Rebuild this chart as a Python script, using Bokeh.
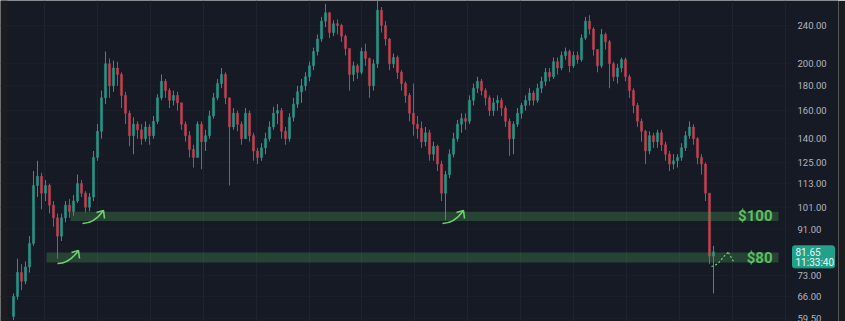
import math
from bokeh.plotting import figure
from bokeh.models import (Range1d, FixedTicker, PrintfTickFormatter, ColumnDataSource,
                          Label, BoxAnnotation)
from bokeh.embed import file_html
from bokeh.resources import INLINE

# ---------------- data ----------------
FIRST_OPEN = 60.0
CLOSE = [66, 74, 71, 76, 85, 112, 117, 108, 112, 102,
         96, 88, 96, 102, 99, 104, 113, 108, 101, 106,
         128, 145, 170, 200, 180, 196, 190, 172, 158, 142,
         150, 146, 140, 148, 142, 152, 170, 184, 176, 168,
         172, 166, 150, 142, 133, 128, 150, 138, 142, 156,
         170, 182, 190, 170, 148, 158, 150, 140, 158, 142,
         132, 128, 134, 140, 148, 158, 160, 145, 140, 155,
         165, 175, 180, 188, 198, 212, 225, 245, 255, 232,
         242, 240, 228, 215, 190, 198, 192, 212, 205, 180,
         200, 258, 240, 225, 200, 206, 192, 182, 172, 158,
         150, 147, 138, 144, 130, 135, 124, 108, 118, 130,
         140, 150, 154, 152, 168, 178, 184, 176, 170, 160,
         166, 168, 162, 152, 140, 150, 158, 164, 168, 174,
         168, 178, 184, 192, 188, 202, 196, 208, 212, 198,
         208, 204, 226, 245, 236, 214, 198, 230, 222, 200,
         188, 196, 204, 188, 176, 164, 152, 145, 132, 142,
         138, 144, 136, 130, 124, 126, 128, 134, 142, 148,
         140, 128, 124, 108, 80, 81.65]
HIGH = [67, 79, 77, 78, 88, 120, 126, 119, 115, 113,
        104, 98, 98, 104, 105, 107, 118, 115, 109, 108,
        132, 150, 176, 212, 205, 203, 202, 192, 175, 160,
        155, 152, 150, 152, 150, 156, 173, 190, 186, 178,
        176, 175, 166, 152, 145, 136, 152, 152, 146, 160,
        174, 186, 196, 192, 170, 162, 160, 152, 162, 160,
        144, 134, 137, 144, 152, 163, 165, 162, 148, 158,
        170, 180, 186, 192, 202, 216, 230, 250, 266, 256,
        246, 247, 242, 230, 215, 202, 200, 216, 220, 206,
        204, 274, 262, 245, 226, 210, 208, 194, 184, 174,
        182, 156, 152, 148, 146, 138, 136, 126, 120, 133,
        144, 153, 158, 158, 172, 182, 188, 186, 178, 172,
        170, 172, 170, 164, 154, 152, 162, 166, 172, 178,
        176, 182, 188, 196, 196, 206, 206, 212, 216, 214,
        212, 212, 230, 250, 252, 238, 214, 236, 232, 224,
        202, 200, 206, 206, 190, 178, 166, 154, 146, 145,
        144, 146, 146, 138, 132, 130, 130, 137, 145, 152,
        150, 141, 130, 125, 108, 84]
LOW = [59, 65, 68, 70, 74, 84, 106, 100, 104, 98,
       92, 79, 86, 94, 96, 97, 103, 106, 98.5, 99,
       104, 126, 140, 165, 170, 175, 180, 162, 150, 135,
       130, 140, 136, 138, 136, 140, 150, 168, 170, 162,
       164, 160, 146, 138, 128, 122, 128, 121, 132, 140,
       154, 168, 178, 165, 112, 146, 145, 136, 140, 138,
       126, 124, 126, 130, 138, 146, 150, 140, 136, 138,
       152, 162, 166, 176, 184, 194, 208, 222, 238, 226,
       228, 230, 222, 208, 176, 184, 186, 190, 198, 170,
       176, 196, 232, 218, 194, 196, 186, 176, 166, 152,
       142, 140, 134, 135, 126, 126, 120, 104, 95, 116,
       128, 138, 144, 146, 150, 164, 174, 172, 164, 156,
       156, 160, 156, 148, 129, 130, 148, 154, 160, 164,
       164, 166, 174, 180, 184, 186, 190, 194, 204, 192,
       196, 200, 202, 224, 230, 208, 192, 196, 214, 178,
       184, 182, 192, 184, 170, 158, 148, 138, 124, 130,
       134, 134, 132, 126, 120, 121, 122, 126, 132, 140,
       136, 124, 118, 104, 77, 67]

PRICE_TICKS = [59.5, 66, 73, 91, 101, 113, 125, 140, 160, 180, 200, 240]
LAST_PRICE = 81.65
LAST_TIME = "11:33:40"
ZONE_LABELS = ["$100", "$80"]
ZONE_LOW = [94.6, 77.6]
ZONE_HIGH = [98.8, 81.4]

# ---------------- layout / style ----------------
W, H = 845, 321
FRAME_W = 838          # frame reaches the right dark strip; price scale drawn over it
CHART_W = 790          # where the candle area ends
X0_PX, DX_PX = 13.0, 4.0
Y_MIN, Y_MAX = 58.6, 270.3
BG = "#161a25"
UP, DOWN = "#2a9587", "#be4250"
GREEN_TXT = "#5cbf60"
ARROW = "#6fd06f"
TAG = "#21a08a"


def px2x(px):
    return (px - X0_PX) / DX_PX


def py2y(py):
    lmin, lmax = math.log(Y_MIN), math.log(Y_MAX)
    return math.exp(lmax - py / H * (lmax - lmin))


def y2py(v):
    lmin, lmax = math.log(Y_MIN), math.log(Y_MAX)
    return (lmax - math.log(v)) / (lmax - lmin) * H


n = len(CLOSE)
opens = [FIRST_OPEN] + CLOSE[:-1]
idx = list(range(n))
src = ColumnDataSource(dict(
    x=idx, o=opens, c=CLOSE, h=HIGH, l=LOW,
    top=[max(a, b) for a, b in zip(opens, CLOSE)],
    bot=[min(a, b) for a, b in zip(opens, CLOSE)],
    col=[UP if c >= o else DOWN for o, c in zip(opens, CLOSE)],
))

p = figure(width=W, height=H, y_axis_type="log",
           x_range=Range1d(px2x(0), px2x(FRAME_W)),
           y_range=Range1d(Y_MIN, Y_MAX),
           x_axis_location=None, y_axis_location="right",
           output_backend="svg", toolbar_location=None,
           min_border_left=0, min_border_right=W - FRAME_W,
           min_border_top=0, min_border_bottom=0)
p.background_fill_color = BG
p.border_fill_color = "#1c1c1e"
p.outline_line_color = None

# grid
p.xgrid.ticker = FixedTicker(ticks=[px2x(44 + 52.9 * k) for k in range(15)])
p.xgrid.grid_line_color = "#1f2331"
p.ygrid.grid_line_color = None
p.segment(x0=[px2x(0)] * len(PRICE_TICKS), x1=[px2x(CHART_W)] * len(PRICE_TICKS),
          y0=PRICE_TICKS, y1=PRICE_TICKS, line_color="#1c202c", line_width=1)

# axis (labels drawn back over the frame, in the price-scale column)
ax = p.yaxis[0]
ax.ticker = FixedTicker(ticks=PRICE_TICKS, minor_ticks=[])
ax.formatter = PrintfTickFormatter(format="%.2f")
ax.axis_line_color = None
ax.major_tick_line_color = None
ax.minor_tick_line_color = None
ax.major_tick_in = 0
ax.major_tick_out = 0
ax.major_label_text_color = "#b2b5be"
ax.major_label_text_font = "Roboto"
ax.major_label_text_font_size = "9.5px"
ax.major_label_standoff = -(FRAME_W - 797)

# left dark strip
p.add_layout(BoxAnnotation(left=px2x(0), right=px2x(7), fill_color="#1d1d1f",
                           fill_alpha=1, line_color=None, level="underlay"))

# candles
p.segment(x0="x", y0="l", x1="x", y1="h", source=src, color="col", line_width=1)
p.vbar(x="x", width=0.55, top="top", bottom="bot", source=src,
       fill_color="col", line_color="col", line_width=0.5)

# zones
zl, zr = [px2x(70), px2x(46)], px2x(778)
p.quad(left=zl, right=[zr, zr], bottom=ZONE_LOW, top=ZONE_HIGH,
       fill_color="#4a9a50", fill_alpha=0.32, line_color=None)
for lbl, lo, hi in zip(ZONE_LABELS, ZONE_LOW, ZONE_HIGH):
    p.add_layout(Label(x=px2x(772), y=math.sqrt(lo * hi), text=lbl,
                       text_align="right", text_baseline="middle",
                       text_font="Roboto", text_font_style="bold",
                       text_font_size="15px", text_color=GREEN_TXT))

# hand-drawn arrows (pixel tips)
for tx, ty in [(78, 250), (103, 210), (463, 210)]:
    p.bezier(x0=[px2x(tx - 21)], y0=[py2y(ty + 13)], x1=[px2x(tx)], y1=[py2y(ty)],
             cx0=[px2x(tx - 11)], cy0=[py2y(ty + 13)], cx1=[px2x(tx - 5)], cy1=[py2y(ty + 7)],
             line_color=ARROW, line_width=1.6)
    p.multi_line(xs=[[px2x(tx - 7), px2x(tx), px2x(tx + 1)]],
                 ys=[[py2y(ty + 2), py2y(ty), py2y(ty + 8)]],
                 line_color=ARROW, line_width=1.6)

# dotted projection
p.bezier(x0=[px2x(711)], y0=[py2y(266)], x1=[px2x(728)], y1=[py2y(252)],
         cx0=[px2x(719)], cy0=[py2y(265)], cx1=[px2x(723)], cy1=[py2y(254)],
         line_color=ARROW, line_width=1.2, line_dash="2 2")
p.line(x=[px2x(728), px2x(733)], y=[py2y(252), py2y(261)],
       line_color=ARROW, line_width=1.2, line_dash="2 2")

# last price tag on the price scale
pp = y2py(LAST_PRICE)
p.quad(left=[px2x(792)], right=[px2x(834)], top=[py2y(pp - 6)], bottom=[py2y(pp + 16)],
       fill_color=TAG, line_color=TAG, border_radius=2)
p.add_layout(Label(x=px2x(795), y=LAST_PRICE, text="%.2f" % LAST_PRICE,
                   text_align="left", text_baseline="middle",
                   text_font="Roboto", text_font_size="10px", text_color="#f4f6f5"))
p.add_layout(Label(x=px2x(795), y=py2y(pp + 10.5), text=LAST_TIME,
                   text_align="left", text_baseline="middle",
                   text_font="Roboto", text_font_size="10px", text_color="#f4f6f5"))

open("out.html", "w").write(file_html(p, INLINE))
